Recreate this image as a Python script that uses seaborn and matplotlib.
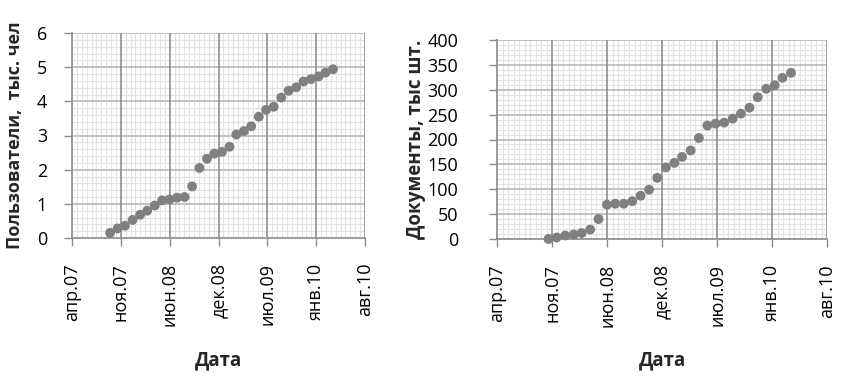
import pandas as pd
import matplotlib
matplotlib.use('Agg')
import matplotlib.pyplot as plt
import seaborn as sns

#--------------------------------------------------------------
# 1. Data (monthly values)
#--------------------------------------------------------------
users_months = [
    '2007-10', '2007-11', '2007-12', '2008-01', '2008-02', '2008-03', '2008-04',
    '2008-05', '2008-06', '2008-07', '2008-08', '2008-09', '2008-10', '2008-11',
    '2008-12', '2009-01', '2009-02', '2009-03', '2009-04', '2009-05', '2009-06',
    '2009-07', '2009-08', '2009-09', '2009-10', '2009-11', '2009-12', '2010-01',
    '2010-02', '2010-03', '2010-04',
]
users = [
    0.15, 0.28, 0.36, 0.53, 0.68, 0.80, 0.95, 1.10, 1.13, 1.18, 1.20,
    1.51, 2.05, 2.32, 2.47, 2.52, 2.67, 3.03, 3.13, 3.27, 3.55, 3.75,
    3.84, 4.11, 4.31, 4.41, 4.58, 4.65, 4.73, 4.84, 4.94,
]

docs_months = users_months[1:]
docs = [
    0, 3, 7, 9, 12, 19, 40, 69, 71, 71, 76, 87, 99, 123, 144,
    153, 165, 178, 203, 228, 232, 234, 242, 252, 264, 285, 302, 309, 324, 334,
]

date_ticks = ['апр.07', 'ноя.07', 'июн.08', 'дек.08', 'июл.09', 'янв.10', 'авг.10']

df_users = pd.DataFrame({'date': pd.to_datetime(users_months), 'value': users})
df_docs = pd.DataFrame({'date': pd.to_datetime(docs_months), 'value': docs})

#--------------------------------------------------------------
# 2. Figure setup
#--------------------------------------------------------------
sns.set_style('white')
plt.rcParams['font.family'] = ['Open Sans', 'DejaVu Sans']

fig = plt.figure(figsize=(8.46, 3.76), dpi=100)
ax1 = fig.add_axes([72 / 846, 1 - 238 / 376, 293 / 846, 205 / 376])
ax2 = fig.add_axes([497 / 846, 1 - 239 / 376, 330 / 846, 199 / 376])

x_start = pd.Timestamp('2007-04-28')   # Excel serial 39200
x_end = pd.Timestamp('2010-08-10')     # Excel serial 40400
major_x = pd.date_range(x_start, periods=7, freq='200D')
minor_x = pd.date_range(x_start, x_end, freq='20D')

axis_grey = '#8a8a8a'


def style_axes(ax, df, ymax, ystep, yminor, ylabel, ylabel_x, ytick_pad,
               ylabel_size, xlabel_y):
    sns.scatterplot(data=df, x='date', y='value', ax=ax, color='#808080',
                    s=50, edgecolor='none', zorder=3, clip_on=False)

    ax.set_xlim(x_start, x_end)
    ax.set_ylim(0, ymax)
    ax.set_xticks(major_x)
    ax.set_xticklabels(date_ticks, rotation=90)
    ax.set_xticks(minor_x, minor=True)
    major_y = list(range(0, ymax + 1, ystep))
    ax.set_yticks(major_y)
    ax.set_yticks([v * yminor for v in range(int(ymax / yminor) + 1)], minor=True)

    # light minor grid below, major grid lines drawn on top of it
    ax.grid(which='minor', color='#e2e2e2', linewidth=0.8)
    ax.grid(which='major', visible=False)
    ax.set_axisbelow(True)
    for yv in major_y[1:]:
        ax.axhline(yv, color='#bdbdbd', linewidth=1.3, zorder=1)
    for xv in major_x[1:]:
        ax.axvline(xv, color='#858585', linewidth=1.1, zorder=1.1)

    for side in ['top', 'right']:
        ax.spines[side].set_visible(False)
    for side in ['left', 'bottom']:
        ax.spines[side].set_color(axis_grey)
        ax.spines[side].set_linewidth(1.2)

    ax.tick_params(which='major', bottom=True, left=True, length=6, width=1,
                   color=axis_grey, labelsize=13, labelcolor='black')
    ax.tick_params(axis='x', which='major', pad=12)
    ax.tick_params(axis='y', which='major', pad=ytick_pad)
    ax.tick_params(which='minor', length=0)

    ax.set_ylabel(ylabel, fontsize=ylabel_size, fontweight='bold')
    ax.yaxis.set_label_coords(ylabel_x, 0.5)
    ax.set_xlabel('Дата', fontsize=13.5, fontweight='bold')
    ax.xaxis.set_label_coords(0.5, xlabel_y)


#--------------------------------------------------------------
# 3. Plots
#--------------------------------------------------------------
style_axes(ax1, df_users, 6, 1, 0.2, 'Пользователи,  тыс. чел', -0.164, 12,
           13, -0.546)
style_axes(ax2, df_docs, 400, 50, 10, 'Документы, тыс шт.', -0.215, 22,
           13.5, -0.558)

fig.savefig('out.png', dpi=100)
